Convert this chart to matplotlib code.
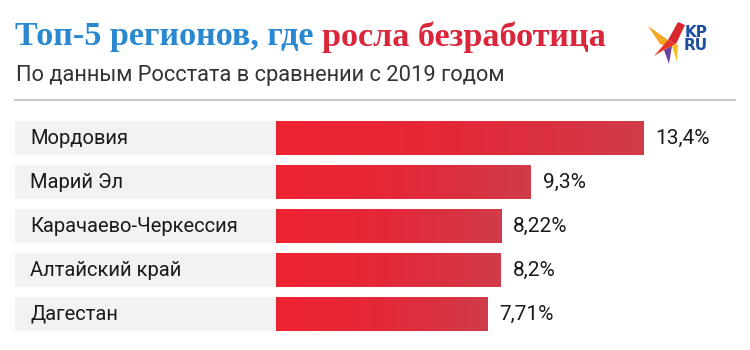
import numpy as np
import matplotlib.pyplot as plt
from matplotlib.colors import LinearSegmentedColormap
from matplotlib.patches import Polygon

# Data
regions = ['Мордовия', 'Марий Эл', 'Карачаево-Черкессия', 'Алтайский край', 'Дагестан']
values = [13.4, 9.3, 8.22, 8.2, 7.71]
value_labels = ['13,4%', '9,3%', '8,22%', '8,2%', '7,71%']

title_blue = 'Топ-5 регионов, где '
title_red = 'росла безработица'
subtitle = 'По данным Росстата в сравнении с 2019 годом'

W, H = 750, 350
px_per_unit = 27.39
bar_x0 = 276

fig = plt.figure(figsize=(7.5, 3.5), dpi=100)
fig.patch.set_facecolor('white')
ax = fig.add_axes([0, 0, 1, 1])
ax.axis('off')

y = np.arange(len(regions))
bh = 34 / 44

# gray label boxes
box_left = (15 - bar_x0) / px_per_unit
ax.barh(y, [-box_left] * len(y), left=box_left, height=bh, color='#f2f2f2', zorder=1)

# bars with gradient
cmap = LinearSegmentedColormap.from_list('redgrad', ['#ee2332', '#e42838', '#d13b48'])
bars = ax.barh(y, values, height=bh, color='none', zorder=2)
grad = np.linspace(0, 1, 256).reshape(1, -1)
for b in bars:
    x0, y0 = b.get_x(), b.get_y()
    w, h = b.get_width(), b.get_height()
    im = ax.imshow(grad, cmap=cmap, aspect='auto', extent=[x0, x0 + w, y0 + h, y0], zorder=2)
    im.set_clip_path(b)

ax.set_xlim(-bar_x0 / px_per_unit, (W - bar_x0) / px_per_unit)
ax.set_ylim((H - 138) / 44, -138 / 44)

for i, (r, v, lab) in enumerate(zip(regions, values, value_labels)):
    ax.text(box_left + 15 / px_per_unit, i, r, va='center', ha='left',
            fontsize=14.5, family='Roboto', color='#1a1a1a', zorder=3)
    ax.text(v + 12 / px_per_unit, i, lab, va='center', ha='left',
            fontsize=15, family='Roboto', color='#1a1a1a', zorder=3)

# title in two colours, fitted to the reference width
tkw = dict(fontweight='bold', family='Liberation Serif', va='center', ha='left')
t1 = fig.text(15 / W, 1 - 37 / H, title_blue, fontsize=24, color='#2a88d0', **tkw)
t2 = fig.text(0, 1 - 37 / H, title_red, fontsize=24, color='#d9263a', **tkw)
fig.canvas.draw()
total = t1.get_window_extent().width + t2.get_window_extent().width
fs = 24 * 591 / total
t1.set_fontsize(fs)
t2.set_fontsize(fs)
fig.canvas.draw()
t2.set_x(t1.get_window_extent().x1 / W)

st = fig.text(16 / W, 1 - 75 / H, subtitle, fontsize=14, family='Roboto',
              color='#333333', va='center', ha='left')
fig.canvas.draw()
st.set_fontsize(14 * 494 / st.get_window_extent().width)

# separator
fig.add_artist(plt.Line2D([15 / W, 735 / W], [1 - 100 / H, 1 - 100 / H],
                          color='#c8c8c8', lw=1.5))

# logo (bird + KP RU)
def fp(pts):
    return [(px / W, 1 - py / H) for px, py in pts]

fig.add_artist(Polygon(fp([(648, 26), (668, 40), (672, 48), (660, 44)]), closed=True,
                       facecolor='#f5a623', transform=fig.transFigure))
fig.add_artist(Polygon(fp([(654, 56), (668, 40), (676, 44), (664, 50)]), closed=True,
                       facecolor='#e8352a', transform=fig.transFigure))
fig.add_artist(Polygon(fp([(668, 40), (678, 22), (685, 25), (676, 44)]), closed=True,
                       facecolor='#d6262f', transform=fig.transFigure))
fig.add_artist(Polygon(fp([(672, 46), (678, 44), (677, 62)]), closed=True,
                       facecolor='#f7c21c', transform=fig.transFigure))
fig.add_artist(Polygon(fp([(664, 50), (672, 46), (669, 64)]), closed=True,
                       facecolor='#6a3fa0', transform=fig.transFigure))
fig.text(696 / W, 1 - 39 / H, 'KP\nRU', fontsize=11, fontweight='bold', family='DejaVu Sans',
         color='#1d4fa0', ha='center', va='center', linespacing=0.9)

fig.savefig('out.png', dpi=100, facecolor='white')
